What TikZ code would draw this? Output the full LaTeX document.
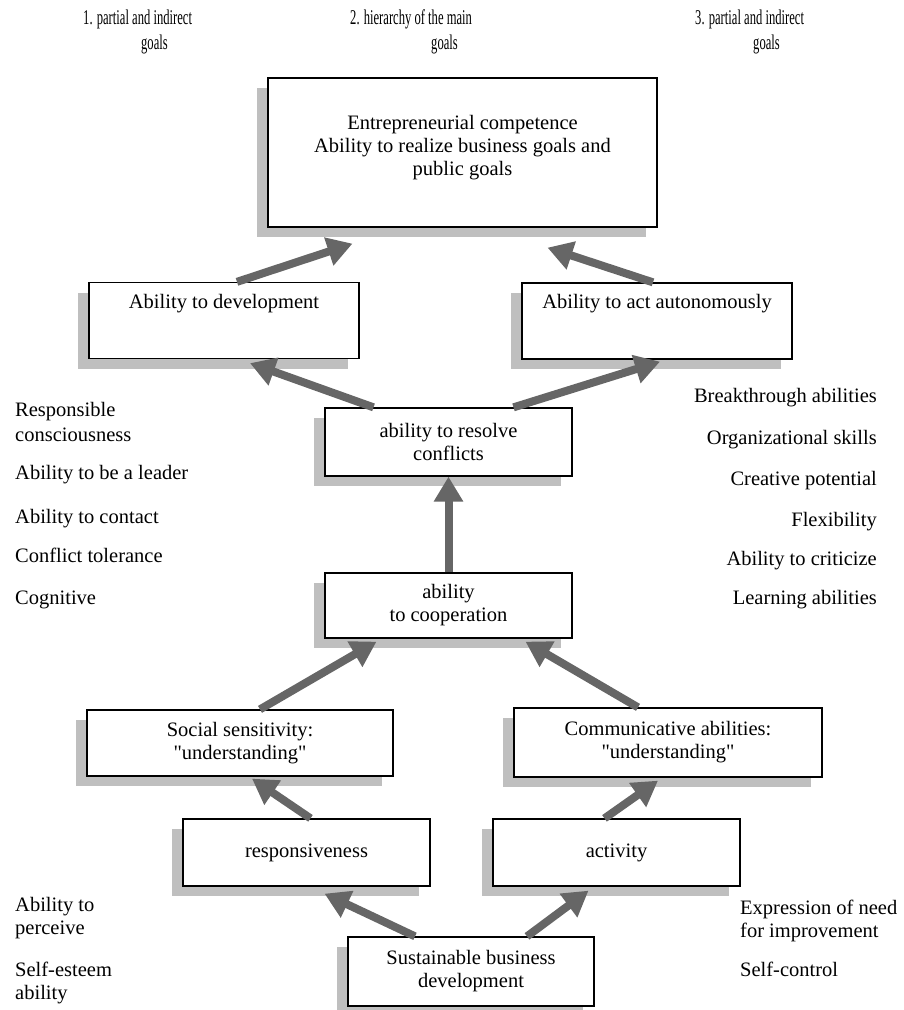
\documentclass[tikz,border=0pt]{standalone}
\usepackage{fontspec}
\setmainfont{Liberation Serif}[Ligatures=TeXOff]
\usetikzlibrary{arrows.meta,shadows}

\tikzstyle{goalbox}=[draw,line width=1.3pt,fill=white,align=center,inner sep=2pt,
  drop shadow={shadow xshift=-11pt,shadow yshift=-10pt,fill=black!25,opacity=1},
  font=\fontsize{20.5}{23}\selectfont]
\tikzstyle{flow}=[draw,line width=8pt,black!60,-{Triangle[length=25pt,width=28pt]}]
\tikzstyle{side}=[inner sep=0pt,align=left,font=\fontsize{20.5}{24}\selectfont]
\tikzstyle{head}=[inner sep=0pt,align=left,font=\fontsize{21}{25}\selectfont]
\newcommand{\narrow}[1]{\scalebox{0.6}[1]{#1}}

\begin{document}
\begin{tikzpicture}[x=1pt,y=-1pt]
    \useasboundingbox (0,0) rectangle (903,1010);

    % goal headings
    \node[head,anchor=base west] (goal1) at (83,49) {\narrow{1. partial and indirect}\\\hspace*{58pt}\narrow{goals}};
    \node[head,anchor=base west] (goal2) at (350,49) {\narrow{2. hierarchy of the main}\\\hspace*{81pt}\narrow{goals}};
    \node[head,anchor=base west] (goal3) at (695,49) {\narrow{3. partial and indirect}\\\hspace*{58pt}\narrow{goals}};

    % boxes
    \node[goalbox,minimum width=389pt,minimum height=149pt] (comp) at (462.5,152.5)
        {Entrepreneurial competence\\Ability to realize business goals and\\public goals\\[-9pt]\mbox{}};
    \node[goalbox,minimum width=270pt,minimum height=76pt] (dev) at (224,320.5)
        {Ability to development\\[16pt]\mbox{}};
    \node[goalbox,minimum width=270pt,minimum height=76pt] (autonomy) at (657,321)
        {Ability to act autonomously\\[16pt]\mbox{}};
    \node[goalbox,minimum width=247pt,minimum height=68pt] (resolve) at (448.5,442)
        {ability to resolve\\conflicts};
    \node[goalbox,minimum width=247pt,minimum height=65pt] (coop) at (448.5,605.5)
        {ability\\to cooperation};
    \node[goalbox,minimum width=306pt,minimum height=66pt] (social) at (240,743)
        {Social sensitivity:\\"understanding"};
    \node[goalbox,minimum width=308pt,minimum height=69pt] (comm) at (668,742.5)
        {Communicative abilities:\\"understanding"};
    \node[goalbox,minimum width=247pt,minimum height=67pt] (resp) at (306.5,852.5)
        {responsiveness};
    \node[goalbox,minimum width=247pt,minimum height=67pt] (act) at (616.5,852.5)
        {activity};
    \node[goalbox,minimum width=246pt,minimum height=69pt] (sust) at (471,971.5)
        {Sustainable business\\development};

    % side lists
    \foreach \pos/\txt [count=\i] in {{(15,441)}/{Responsible\\[1pt]consciousness}, {(15,479)}/{Ability to be a leader},
                            {(15,523)}/{Ability to contact}, {(15,562)}/{Conflict tolerance}, {(15,604)}/{Cognitive},
                            {(15,934)}/{Ability to\\[-1pt]perceive}, {(15,999)}/{Self-esteem\\[-1pt]ability}}
        \node[side,anchor=base west] (left\i) at \pos {\txt};
    \foreach \pos/\txt [count=\i] in {{(877,402)}/{Breakthrough abilities}, {(877,444)}/{Organizational skills},
                            {(877,485)}/{Creative potential}, {(877,526)}/{Flexibility},
                            {(877,565)}/{Ability to criticize}, {(877,604)}/{Learning abilities}}
        \node[side,anchor=base east] (right\i) at \pos {\txt};
    \node[side,anchor=base west] (need) at (740,937) {Expression of need\\[-1pt]for improvement};
    \node[side,anchor=base west] (control) at (740,976) {Self-control};

    % arrows
    \foreach \source/\sx/\dest/\dx/\dy in {dev/13/comp/-110/-16, autonomy/-4/comp/85/-20,
                            resolve/-75/dev/26/-4, resolve/65/autonomy/3/-2, coop/0/resolve/0/0,
                            social/20/coop/-72/-3, comm/-30/coop/77/-3, resp/4/social/12/-2,
                            act/-12/comm/-10/-3, sust/-56/resp/18/-7, sust/56/act/-28/-4}
        \path[flow] ([xshift=\sx pt]\source.north) -- ([xshift=\dx pt,yshift=\dy pt]\dest.south);
\end{tikzpicture}
\end{document}
